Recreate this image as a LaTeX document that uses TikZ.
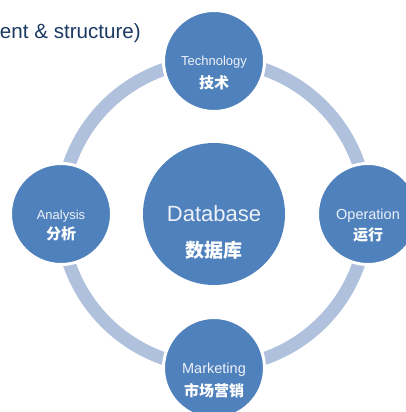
\documentclass[tikz,border=0pt]{standalone}
\usepackage{fontspec}
\setmainfont{Liberation Sans}
\newfontfamily\cjk{Noto Sans CJK SC}
\definecolor{bub}{HTML}{4F81BD}
\definecolor{ringc}{HTML}{B0C1DD}
\definecolor{navy}{HTML}{1B3A63}
\definecolor{lbl}{HTML}{EEF2F8}
\tikzset{
  bubble/.style={circle, fill=bub, draw=white, line width=3pt, minimum size=101pt, inner sep=0pt},
  hub/.style={circle, fill=bub, minimum size=142pt, inner sep=0pt},
  en/.style={anchor=base, text=lbl, font=\fontsize{13.5}{15}\selectfont, inner sep=0pt},
  zh/.style={anchor=center, text=white, font=\cjk\bfseries\fontsize{15}{17}\selectfont, inner sep=0pt},
  ringline/.style={draw=ringc, line width=13pt},
  title/.style={anchor=base east, text=navy, font=\fontsize{20.6}{24}\selectfont, inner sep=0pt}
}
\begin{document}
\begin{tikzpicture}[x=1pt,y=1pt]
\useasboundingbox (0,0) rectangle (406,412);
\clip (0,0) rectangle (406,412);
\node[title] (ttl) at (141,373) {ent \& structure)};
\coordinate (c) at (214,198);
\draw[ringline] (c) circle (153);
\node[hub] (db) at (c) {};
\node[bubble] (tech) at (214,351) {};
\node[bubble] (ana) at (61,198) {};
\node[bubble] (op) at (368,198) {};
\node[bubble] (mkt) at (214,44) {};
\node[en, font=\fontsize{22}{26}\selectfont] (dbe) at ([yshift=-8]db.center) {Database};
\node[zh, font=\cjk\bfseries\fontsize{19}{22}\selectfont] (dbz) at ([yshift=-36]db.center) {数据库};
\node[en, font=\fontsize{13}{15}\selectfont] (teche) at ([yshift=-5]tech.center) {Technology};
\node[zh] (techz) at ([yshift=-22]tech.center) {技术};
\node[en, font=\fontsize{13}{15}\selectfont] (anae) at ([yshift=-6]ana.center) {Analysis};
\node[zh] (anaz) at ([yshift=-20]ana.center) {分析};
\node[en, font=\fontsize{14.5}{16}\selectfont] (ope) at ([yshift=-6]op.center) {Operation};
\node[zh] (opz) at ([yshift=-21]op.center) {运行};
\node[en, font=\fontsize{14.5}{16}\selectfont] (mkte) at ([yshift=-6]mkt.center) {Marketing};
\node[zh] (mktz) at ([yshift=-23]mkt.center) {市场营销};
\end{tikzpicture}
\end{document}
